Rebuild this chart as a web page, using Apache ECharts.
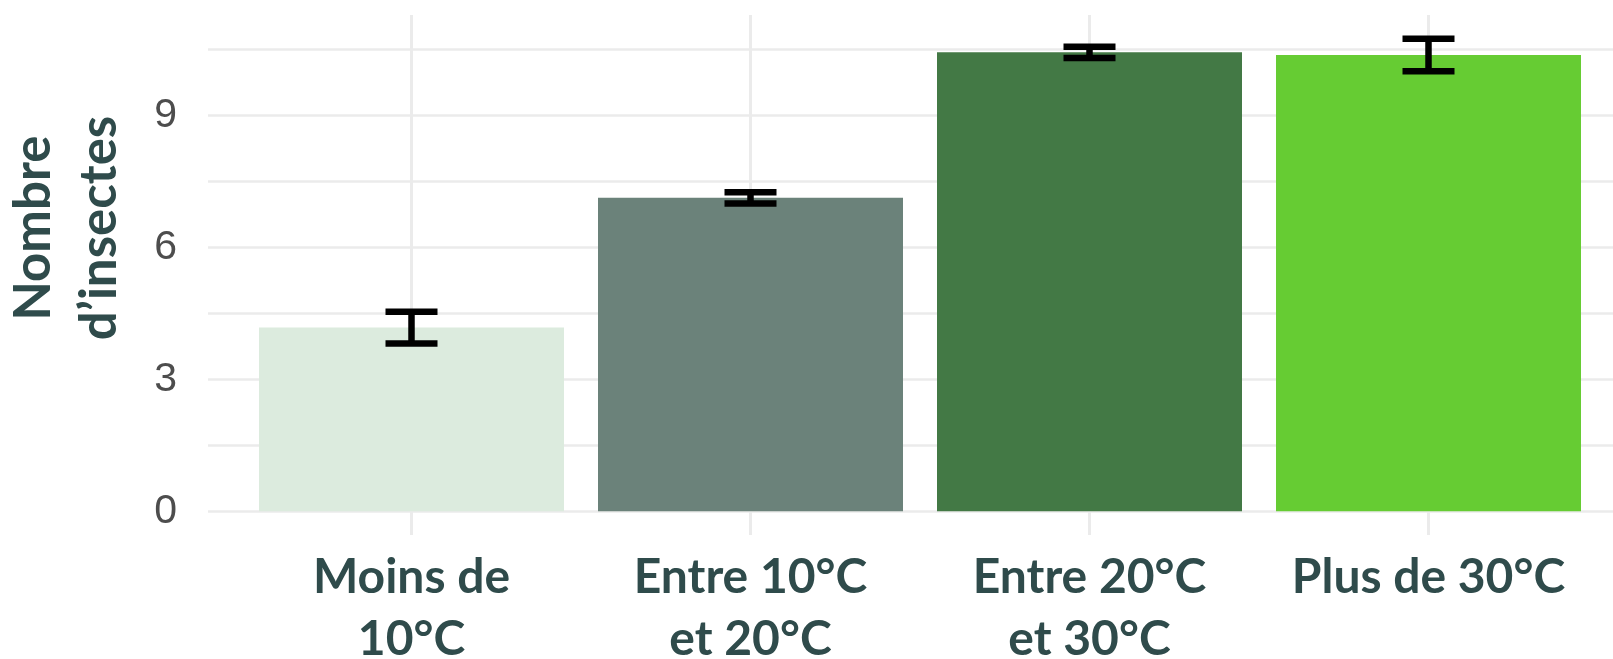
<!DOCTYPE html>
<html>
<head>
<meta charset="utf-8">
<script src="https://cdn.jsdelivr.net/npm/echarts@6/dist/echarts.min.js"></script>
<style>
  html, body { margin: 0; padding: 0; background: #fff; }
  #main { width: 1613px; height: 659px; }
</style>
</head>
<body>
<div id="main"></div>
<script>
// data
var categories = ['Moins de\n10°C', 'Entre 10°C\net 20°C', 'Entre 20°C\net 30°C', 'Plus de 30°C'];
var means = [4.18, 7.13, 10.44, 10.38];
var errors = [0.36, 0.13, 0.13, 0.37];
var barColors = ['#dcebde', '#6b827a', '#437945', '#66cc33'];
var yTicks = [0, 3, 6, 9];

var labelFont = "Lato, 'Open Sans', sans-serif";
var textColor = '#2f4b4b';
var gridColor = '#ebebeb';

var chart = echarts.init(document.getElementById('main'));

var barData = means.map(function (v, i) {
  return { value: v, itemStyle: { color: barColors[i] } };
});
var errData = means.map(function (v, i) {
  return [i, v - errors[i], v + errors[i]];
});

function renderError(params, api) {
  var lo = api.coord([api.value(0), api.value(1)]);
  var hi = api.coord([api.value(0), api.value(2)]);
  var half = 26;
  var st = { stroke: '#000', lineWidth: 6.5 };
  return {
    type: 'group',
    children: [
      { type: 'line', shape: { x1: lo[0], y1: lo[1], x2: hi[0], y2: hi[1] }, style: st },
      { type: 'line', shape: { x1: lo[0] - half, y1: lo[1], x2: lo[0] + half, y2: lo[1] }, style: st },
      { type: 'line', shape: { x1: hi[0] - half, y1: hi[1], x2: hi[0] + half, y2: hi[1] }, style: st }
    ]
  };
}

var option = {
  backgroundColor: '#fff',
  animation: false,
  grid: [
    { left: 208, right: 0, top: 49.7, bottom: 147.7, outerBoundsMode: 'none', containLabel: false },
    { left: 411.5, right: 184.5, top: 15, bottom: 124, outerBoundsMode: 'none', containLabel: false }
  ],
  graphic: [{
    type: 'text',
    x: 67,
    y: 228,
    rotation: Math.PI / 2,
    style: {
      text: 'Nombre\nd’insectes',
      fontSize: 51,
      fontWeight: 'bold',
      fontFamily: labelFont,
      fill: textColor,
      align: 'center',
      verticalAlign: 'middle',
      lineHeight: 66
    }
  }],
  xAxis: [
    { gridIndex: 0, type: 'value', min: 0, max: 1, show: false },
    {
      gridIndex: 1,
      type: 'category',
      data: categories,
      boundaryGap: false,
      axisLine: { show: false },
      axisTick: { show: false },
      splitLine: { show: true, lineStyle: { color: gridColor, width: 3 } },
      axisLabel: {
        interval: 0,
        hideOverlap: false,
        margin: 12,
        fontSize: 48,
        fontWeight: 'bold',
        fontFamily: labelFont,
        color: textColor,
        lineHeight: 62
      }
    }
  ],
  yAxis: [
    {
      gridIndex: 0,
      type: 'value',
      min: 0,
      max: 10.5,
      interval: 1.5,
      axisLine: { show: false },
      axisTick: { show: false },
      splitLine: { show: true, lineStyle: { color: gridColor, width: 2.5 } },
      axisLabel: {
        margin: 31,
        fontSize: 41,
        fontFamily: "'Liberation Sans', Arial, sans-serif",
        color: '#4d4d4d',
        formatter: function (v) {
          return yTicks.indexOf(v) >= 0 ? String(v) : '';
        }
      }
    },
    { gridIndex: 1, type: 'value', min: -0.539, max: 11.29, show: false }
  ],
  series: [
    {
      type: 'bar',
      xAxisIndex: 1,
      yAxisIndex: 1,
      barWidth: 305,
      clip: false,
      data: barData
    },
    {
      type: 'custom',
      xAxisIndex: 1,
      yAxisIndex: 1,
      renderItem: renderError,
      z: 5,
      data: errData
    }
  ]
};

chart.setOption(option);
</script>
</body>
</html>
